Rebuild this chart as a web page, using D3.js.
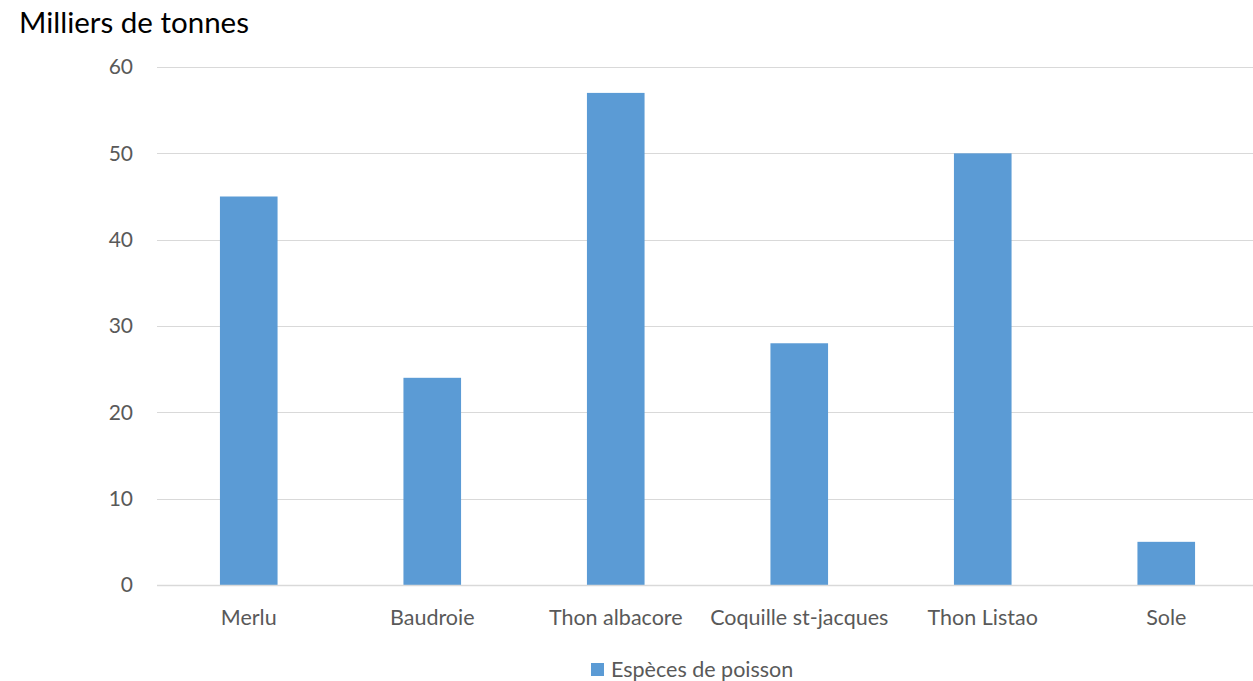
<!DOCTYPE html>
<html>
<head>
<meta charset="utf-8">
<script src="https://cdn.jsdelivr.net/npm/d3@7"></script>
<style>
  html, body { margin: 0; padding: 0; background: #fff; }
  svg { display: block; font-family: Lato, "Open Sans", sans-serif; }
</style>
</head>
<body>
<svg id="chart" width="1253" height="681"></svg>
<script>
// Landings by species, in thousands of tonnes
const categories = ["Merlu", "Baudroie", "Thon albacore", "Coquille st-jacques", "Thon Listao", "Sole"];
const values = [45, 24, 57, 28, 50, 5];
const yTicks = [0, 10, 20, 30, 40, 50, 60];
const seriesName = "Espèces de poisson";
const unitLabel = "Milliers de tonnes";

const svg = d3.select("#chart");
const plotLeft = 157, plotRight = 1258, plotTop = 67, plotBottom = 585;
const barColor = "#5b9bd5";

const x = d3.scaleBand()
  .domain(categories)
  .range([plotLeft, plotRight])
  .paddingInner(0.686)
  .paddingOuter(0.343);

const y = d3.scaleLinear().domain([0, 60]).range([plotBottom, plotTop]);

// horizontal gridlines
svg.append("g")
  .selectAll("line")
  .data(yTicks)
  .join("line")
  .attr("x1", plotLeft).attr("x2", plotRight)
  .attr("y1", d => Math.round(y(d)) + 0.5)
  .attr("y2", d => Math.round(y(d)) + 0.5)
  .attr("stroke", "#d9d9d9")
  .attr("stroke-width", 1);

// y tick labels
svg.append("g")
  .selectAll("text")
  .data(yTicks)
  .join("text")
  .attr("x", 133)
  .attr("y", d => y(d))
  .attr("dy", "0.35em")
  .attr("text-anchor", "end")
  .attr("font-size", 21)
  .attr("fill", "#595959")
  .text(d => d);

// bars
svg.append("g")
  .selectAll("rect")
  .data(values)
  .join("rect")
  .attr("x", (d, i) => x(categories[i]))
  .attr("width", x.bandwidth())
  .attr("y", d => y(d))
  .attr("height", d => y(0) - y(d))
  .attr("fill", barColor);

// baseline
svg.append("line")
  .attr("x1", plotLeft).attr("x2", plotRight)
  .attr("y1", plotBottom + 0.5).attr("y2", plotBottom + 0.5)
  .attr("stroke", "#d9d9d9")
  .attr("stroke-width", 1.5);

// category labels
svg.append("g")
  .selectAll("text")
  .data(categories)
  .join("text")
  .attr("x", d => x(d) + x.bandwidth() / 2)
  .attr("y", 617)
  .attr("dy", "0.35em")
  .attr("text-anchor", "middle")
  .attr("font-size", 21.5)
  .attr("fill", "#595959")
  .text(d => d);

// unit title
svg.append("text")
  .attr("x", 19)
  .attr("y", 33)
  .attr("font-size", 29.5)
  .attr("fill", "#000")
  .text(unitLabel);

// legend
const legend = svg.append("g");
legend.append("rect")
  .attr("x", 591).attr("y", 663)
  .attr("width", 13).attr("height", 13)
  .attr("fill", barColor);
legend.append("text")
  .attr("x", 611)
  .attr("y", 669)
  .attr("dy", "0.35em")
  .attr("font-size", 21.5)
  .attr("fill", "#595959")
  .text(seriesName);
</script>
</body>
</html>
